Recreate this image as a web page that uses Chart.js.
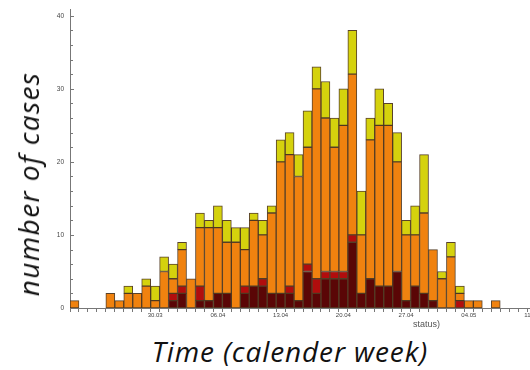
<!DOCTYPE html>
<html>
<head>
<meta charset="utf-8">
<script src="https://cdn.jsdelivr.net/npm/chart.js@4/dist/chart.umd.min.js"></script>
<style>
  html, body { margin: 0; padding: 0; background: #fff; width: 530px; height: 370px; overflow: hidden; }
  #wrap { position: absolute; left: 0; top: 0; width: 554px; height: 330px; }
  .ytitle { position: absolute; left: 28px; top: 184px; transform: translate(-50%, -50%) rotate(-90deg);
            font: italic 28px "Open Sans", sans-serif; letter-spacing: 1.4px; color: #111; white-space: nowrap; line-height: 1; }
  .xtitle { position: absolute; left: 290px; top: 337px; transform: translateX(-50%);
            font: italic 28px "Open Sans", sans-serif; letter-spacing: 0.9px; color: #111; white-space: nowrap; line-height: 1; }
  .note { position: absolute; left: 413px; top: 319px; font: 9px "Liberation Sans", sans-serif; color: #555; white-space: nowrap; }
</style>
</head>
<body>
<div id="wrap"><canvas id="c"></canvas></div>
<div class="ytitle">number of cases</div>
<div class="xtitle">Time (calender week)</div>
<div class="note">status)</div>
<script>
// one category per day
const days = ['21.03','22.03','23.03','24.03','25.03','26.03','27.03','28.03','29.03','30.03','31.03',
  '01.04','02.04','03.04','04.04','05.04','06.04','07.04','08.04','09.04','10.04','11.04','12.04','13.04',
  '14.04','15.04','16.04','17.04','18.04','19.04','20.04','21.04','22.04','23.04','24.04','25.04','26.04',
  '27.04','28.04','29.04','30.04','01.05','02.05','03.05','04.05','05.05','06.05','07.05','08.05','09.05',
  '10.05','11.05','12.05','13.05'];

// weekly labels shown on the time axis
const weekLabels = ['30.03','06.04','13.04','20.04','27.04','04.05','11.05'];

// daily case counts per status group (stacked from bottom to top)
const darkCases   = [0,0,0,0,0,0,0,0,0,0,0,1,2,0,1,1,2,2,0,2,3,3,2,2,2,1,5,2,4,4,4,9,2,4,3,3,5,1,3,2,1,0,0,0,0,0,0,0];
const redCases    = [0,0,0,0,0,0,0,0,0,0,0,1,1,0,2,0,0,0,0,1,0,1,0,0,1,0,1,2,1,1,1,1,0,0,0,0,0,0,0,0,0,0,0,1,0,0,0,0];
const orangeCases = [1,0,0,0,2,1,2,2,3,1,5,2,5,4,8,10,9,7,9,5,9,6,11,18,18,17,16,26,21,17,20,22,8,19,22,22,15,9,7,11,7,4,7,1,1,1,0,1];
const yellowCases = [0,0,0,0,0,0,1,0,1,2,2,2,1,0,2,1,3,3,2,3,1,2,1,3,3,3,5,3,5,4,5,6,6,3,5,3,4,2,4,8,0,1,2,1,0,0,0,0];

const yTicks = [0, 10, 20, 30, 40];

const outline = 'rgba(70,45,20,0.9)';
function series(label, data, color) {
  return { label, data, backgroundColor: color, borderColor: outline, borderWidth: 1,
           borderSkipped: false, barPercentage: 1, categoryPercentage: 1 };
}

const isEven = v => Math.abs(v - Math.round(v / 2) * 2) < 1e-6;
const isLabelled = v => yTicks.some(t => Math.abs(t - v) < 1e-6);

// short tick marks pointing into the plot from the value axis
const innerTicks = {
  id: 'innerTicks',
  afterDraw(chart) {
    const y = chart.scales.y, ctx = chart.ctx, x0 = chart.chartArea.left;
    ctx.save();
    ctx.strokeStyle = '#777';
    ctx.lineWidth = 1;
    y.ticks.forEach(t => {
      const py = Math.round(y.getPixelForValue(t.value)) + 0.5;
      const len = isLabelled(t.value) ? 4 : 3;
      ctx.beginPath();
      ctx.moveTo(x0, py);
      ctx.lineTo(x0 + len, py);
      ctx.stroke();
    });
    ctx.restore();
  }
};

new Chart(document.getElementById('c'), {
  type: 'bar',
  data: {
    labels: days,
    datasets: [
      series('dark', darkCases, '#5a0606'),
      series('red', redCases, '#b10d0d'),
      series('orange', orangeCases, '#f0820f'),
      series('yellow', yellowCases, '#d5d20d')
    ]
  },
  options: {
    responsive: true,
    maintainAspectRatio: false,
    animation: false,
    layout: { padding: { left: 0, right: 0, top: 8, bottom: 0 } },
    plugins: { legend: { display: false }, tooltip: { enabled: false } },
    scales: {
      x: {
        stacked: true,
        afterFit(s) { s.height = 22; },
        border: { display: true, color: '#777', width: 1 },
        grid: { display: true, drawOnChartArea: false, drawTicks: true, tickLength: 4, color: '#777', offset: true },
        ticks: {
          autoSkip: false, maxRotation: 0, minRotation: 0, padding: 0,
          color: '#444', font: { family: 'Liberation Sans', size: 6 },
          callback(v, i) { const d = days[i]; return weekLabels.includes(d) ? d : ''; }
        }
      },
      y: {
        stacked: true,
        min: 0,
        max: 40.8,
        afterFit(s) { s.width = 70; },
        afterBuildTicks(s) { s.ticks = s.ticks.filter(t => isEven(t.value)); },
        border: { display: true, color: '#777', width: 1 },
        grid: { display: false, drawTicks: false },
        ticks: {
          stepSize: 2, includeBounds: false, padding: 6, color: '#444', autoSkip: false,
          font: { family: 'Liberation Sans', size: 6.5 },
          callback(v) { return isLabelled(v) ? String(Math.round(v)) : ''; }
        }
      }
    }
  },
  plugins: [innerTicks]
});
</script>
</body>
</html>
